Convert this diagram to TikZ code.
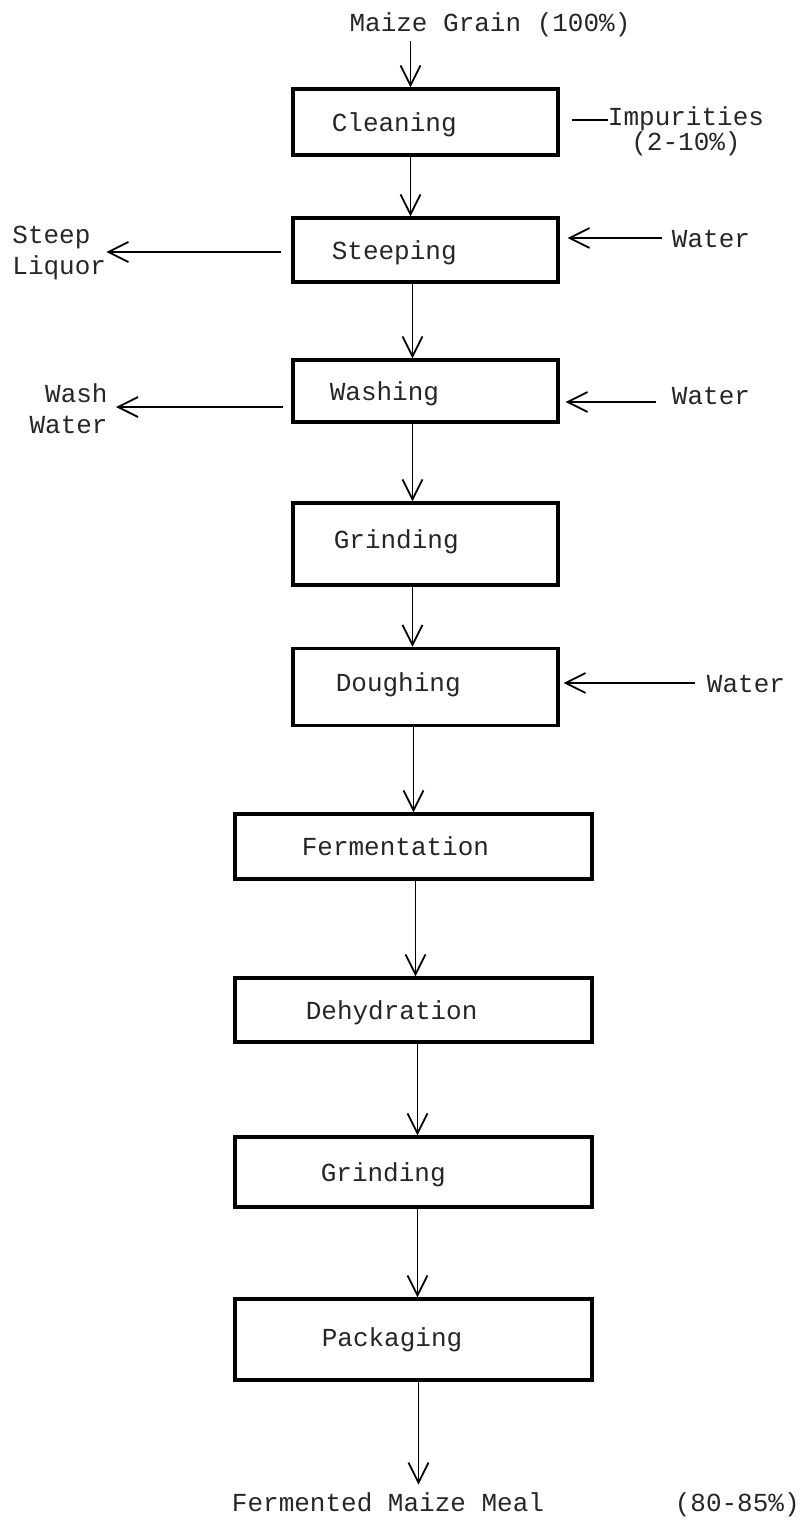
\documentclass[tikz,border=0pt]{standalone}
\usepackage{fontspec}
\usetikzlibrary{positioning,arrows.meta}
\newfontfamily\typer{Liberation Mono}
\newcommand\typefont{\typer\fontsize{13pt}{15.5pt}\selectfont}
\tikzset{
  stage/.style={draw, line width=1.6pt, inner sep=0pt},
  upper/.style={stage, minimum width=132.5pt},
  lower/.style={stage, minimum width=178.5pt},
  typed/.style={font=\typefont, text=black!85, inner sep=0pt, text height=9pt, text depth=0pt},
  typedblock/.style={font=\typefont, text=black!85, inner sep=0pt},
  flow/.style={-{Straight Barb[length=10pt,width=10pt]}, line width=0.9pt},
  link/.style={line width=0.9pt},
}
\begin{document}
\begin{tikzpicture}[x=0.5pt, y=-0.5pt]
                \useasboundingbox (0,0) rectangle (807,1523);
                % stages
                \node[upper, minimum height=33pt] (clean) at (425.5,122) {};
                \node[upper, minimum height=32pt] (steep) at (425.5,250) {};
                \node[upper, minimum height=31pt] (wash) at (425.5,391) {};
                \node[upper, minimum height=41pt] (grind) at (425.5,544) {};
                \node[upper, minimum height=38.5pt] (dough) at (425.5,687) {};
                \node[lower, minimum height=32.5pt] (ferm) at (413.5,846.5) {};
                \node[lower, minimum height=32pt] (dehyd) at (413.5,1010) {};
                \node[lower, minimum height=35pt] (grindtwo) at (413.5,1172) {};
                \node[lower, minimum height=40.5pt] (pack) at (413.5,1339.5) {};
                % stage names
                \node[typed, right=20pt of clean.west] (cleantxt) {Cleaning};
                \node[typed, right=20pt of steep.west] (steeptxt) {Steeping};
                \node[typed, right=19pt of wash.west] (washtxt) {Washing};
                \node[typed, right=21pt of grind.west, yshift=2.5pt] (grindtxt) {Grinding};
                \node[typed, right=22pt of dough.west, yshift=2.5pt] (doughtxt) {Doughing};
                \node[typed, right=34pt of ferm.west] (fermtxt) {Fermentation};
                \node[typed, right=36pt of dehyd.west] (dehydtxt) {Dehydration};
                \node[typed, right=43.5pt of grindtwo.west] (grindtwotxt) {Grinding};
                \node[typed, right=44pt of pack.west, yshift=1pt] (packtxt) {Packaging};
                % inputs and outputs
                \node[typed] (grain) at (490,22) {Maize Grain (100\%)};
                \node[typedblock, align=center] (imp) at (686,131) {Impurities\\[-3pt](2-10\%)};
                \node[typedblock, align=left, anchor=west] (liquor) at (12,253) {Steep\\Liquor};
                \node[typed] (waterone) at (711,238) {Water};
                \node[typedblock, align=right, anchor=east] (washwater) at (108,409) {Wash\\Water};
                \node[typed] (watertwo) at (711,395) {Water};
                \node[typed] (waterthree) at (746,683) {Water};
                \node[typed] (meal) at (388,1502) {Fermented Maize Meal};
                \node[typed, right=65pt of meal] (yield) {(80-85\%)};
                % main line
                \draw[flow] ([xshift=-7.5pt,yshift=-5pt]grain.south -| clean.north) -- ([xshift=-7.5pt]clean.north);
                \draw[flow] ([xshift=-7.5pt]clean.south) -- ([xshift=-7.5pt]steep.north);
                \draw[flow] ([xshift=-6.5pt]steep.south) -- ([xshift=-6.5pt]wash.north);
                \draw[flow] ([xshift=-6.5pt]wash.south) -- ([xshift=-6.5pt]grind.north);
                \draw[flow] ([xshift=-6.5pt]grind.south) -- ([xshift=-6.5pt]dough.north);
                \draw[flow] ([xshift=-6pt]dough.south) -- ([xshift=-6pt]dough.south |- ferm.north);
                \draw[flow] ([xshift=1pt]ferm.south) -- ([xshift=1pt]dehyd.north);
                \draw[flow] ([xshift=2pt]dehyd.south) -- ([xshift=2pt]grindtwo.north);
                \draw[flow] ([xshift=2pt]grindtwo.south) -- ([xshift=2pt]pack.north);
                \draw[flow] ([xshift=2.5pt]pack.south) -- ([xshift=2.5pt,yshift=4pt]pack.south |- meal.north);
                % side streams
                \draw[link] ([xshift=6pt,yshift=1pt]clean.east) -- ([yshift=1pt]clean.east -| imp.west);
                \draw[flow] ([xshift=-5pt,yshift=-1pt]steep.west) -- ([yshift=-1pt]steep.west -| liquor.east);
                \draw[flow] ([xshift=-5pt]waterone.west) -- ([xshift=4pt]waterone.west -| steep.east);
                \draw[flow] ([xshift=-4pt,yshift=-8pt]wash.west) -- ([xshift=4pt,yshift=-8pt]wash.west -| washwater.east);
                \draw[flow] ([xshift=-8pt,yshift=-3.5pt]watertwo.west) -- ([xshift=3pt,yshift=-3.5pt]watertwo.west -| wash.east);
                \draw[flow] ([xshift=-6pt]waterthree.west) -- ([xshift=2pt]waterthree.west -| dough.east);
\end{tikzpicture}
\end{document}
